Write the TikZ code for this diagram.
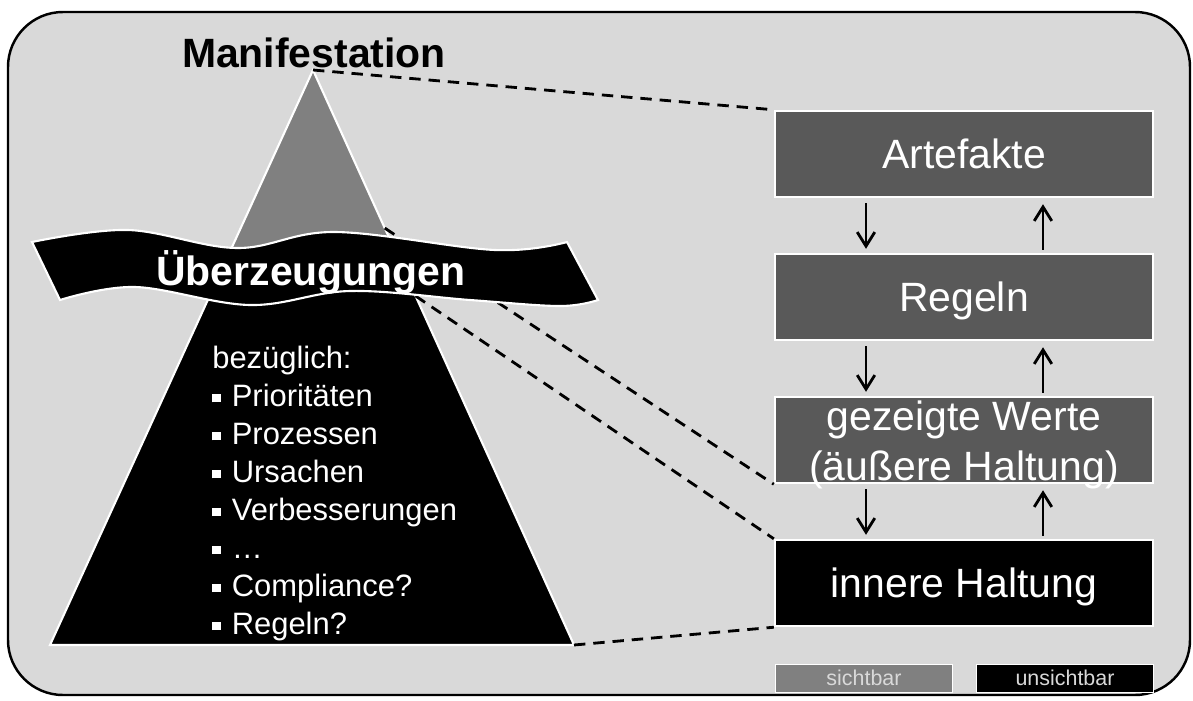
\documentclass[tikz,border=0pt]{standalone}
\usepackage{fontspec}
\setmainfont{Liberation Sans}
\usepackage{tikz}
\usetikzlibrary{positioning, calc, arrows.meta}

\definecolor{sea}{HTML}{D9D9D9}
\definecolor{tipgray}{HTML}{808080}
\definecolor{tilegray}{HTML}{595959}

\newcommand{\sqbullet}{\rule[0.14em]{0.27em}{0.27em}\hspace{0.36em}}

\tikzset{
	tile/.style={draw=white, line width=1.4pt, text=white, minimum width=7.56cm, minimum height=1.72cm,
		inner sep=0pt, text height=16.8pt, text depth=0pt, font=\fontsize{23.3}{28.4}\selectfont},
	flow/.style={line width=1.6pt, -{Straight Barb[length=8pt, width=10pt]}},
	link/.style={dash pattern=on 6.5pt off 4.5pt, line width=1.6pt},
	keybox/.style={draw=white, line width=0.4pt, text=sea, minimum width=3.54cm, minimum height=0.56cm,
		inner sep=0pt, text height=8.8pt, text depth=0pt, font=\fontsize{12.2}{14}\selectfont},
	headline/.style={font=\fontsize{23.3}{28}\selectfont\bfseries, inner sep=0pt}
}

\begin{document}
\begin{tikzpicture}[x=0.02cm, y=-0.02cm]
			\useasboundingbox (0,0) rectangle (1193,700);
			\filldraw	[fill=sea, draw=black, line width=1.4pt, rounded corners=1.1cm]	(8,12) rectangle (1190,695);

			\node	(artefakte)	at	(964,154)	[tile, fill=tilegray]	{Artefakte};
			\node	(regeln)	at	(964,297)	[tile, fill=tilegray]	{Regeln};
			\node	(werte)		at	(964,440)	[tile, fill=tilegray]	{};
			\node	(haltung)	at	(964,583)	[tile, fill=black]		{innere Haltung};
			\node	(wertetext)	at	(964,480)	[anchor=base, align=center, text=white, inner sep=0pt,
				font=\fontsize{23.3}{28.4}\selectfont]	{gezeigte Werte\\(äußere Haltung)};

			\draw	[flow]	([shift={(-98,5)}]artefakte.south)	--	([shift={(-98,-4)}]regeln.north);
			\draw	[flow]	([shift={(79,-3)}]regeln.north)		--	([shift={(79,6)}]artefakte.south);
			\draw	[flow]	([shift={(-98,5)}]regeln.south)		--	([shift={(-98,-4)}]werte.north);
			\draw	[flow]	([shift={(79,-3)}]werte.north)		--	([shift={(79,6)}]regeln.south);
			\draw	[flow]	([shift={(-98,5)}]werte.south)		--	([shift={(-98,-4)}]haltung.north);
			\draw	[flow]	([shift={(79,-3)}]haltung.north)	--	([shift={(79,6)}]werte.south);

			\node	(sichtbar)		at	(864,678)	[keybox, fill=tipgray]	{sichtbar};
			\node	(unsichtbar)	at	(1065,678)	[keybox, fill=black]	{unsichtbar};

			\coordinate	(apex)		at	(313,70);
			\coordinate	(baseL)		at	(50,645);
			\coordinate	(baseR)		at	(574,645);
			\coordinate	(seaTop)	at	($(apex)!0.275!(baseR)$);
			\coordinate	(seaBot)	at	($(apex)!0.393!(baseR)$);
			\fill	[black]	(apex) -- (baseL) -- (baseR) -- cycle;
			\begin{scope}
				\clip	(apex) -- (baseL) -- (baseR) -- cycle;
				\fill	[tipgray]	(0,0) rectangle (700,270);
			\end{scope}
			\draw	[white, line width=1.2pt]	(apex) -- (baseL) -- (baseR) -- cycle;

			\draw	[link]	(apex)		--	(artefakte.north west);
			\draw	[link]	(seaTop)	--	(werte.south west);
			\draw	[link]	(seaBot)	--	(haltung.north west);
			\draw	[link]	(baseR)		--	(haltung.south west);

			\filldraw	[fill=black, draw=white, line width=1.2pt]
				plot[smooth, tension=0.6] coordinates {(32,242) (128,230) (237,248) (335,232) (495,250) (567,242)}
				-- plot[smooth, tension=0.6] coordinates {(598,300) (560,306) (470,300) (350,291) (250,305) (135,287) (60,300)}
				-- cycle;

			\node	(manifestation)		at	(314,67)	[headline, anchor=base]				{Manifestation};
			\node	(ueberzeugungen)	at	(311,285)	[headline, anchor=base, text=white]	{Überzeugungen};
			\node	(themen)	at	(212,346)	[anchor=north west, align=left, text=white, inner sep=0pt,
				font=\fontsize{17.6}{21.6}\selectfont]
				{bezüglich:\\\sqbullet Prioritäten\\\sqbullet Prozessen\\\sqbullet Ursachen\\\sqbullet Verbesserungen\\\sqbullet …\\\sqbullet Compliance?\\\sqbullet Regeln?};
		\end{tikzpicture}
\end{document}
